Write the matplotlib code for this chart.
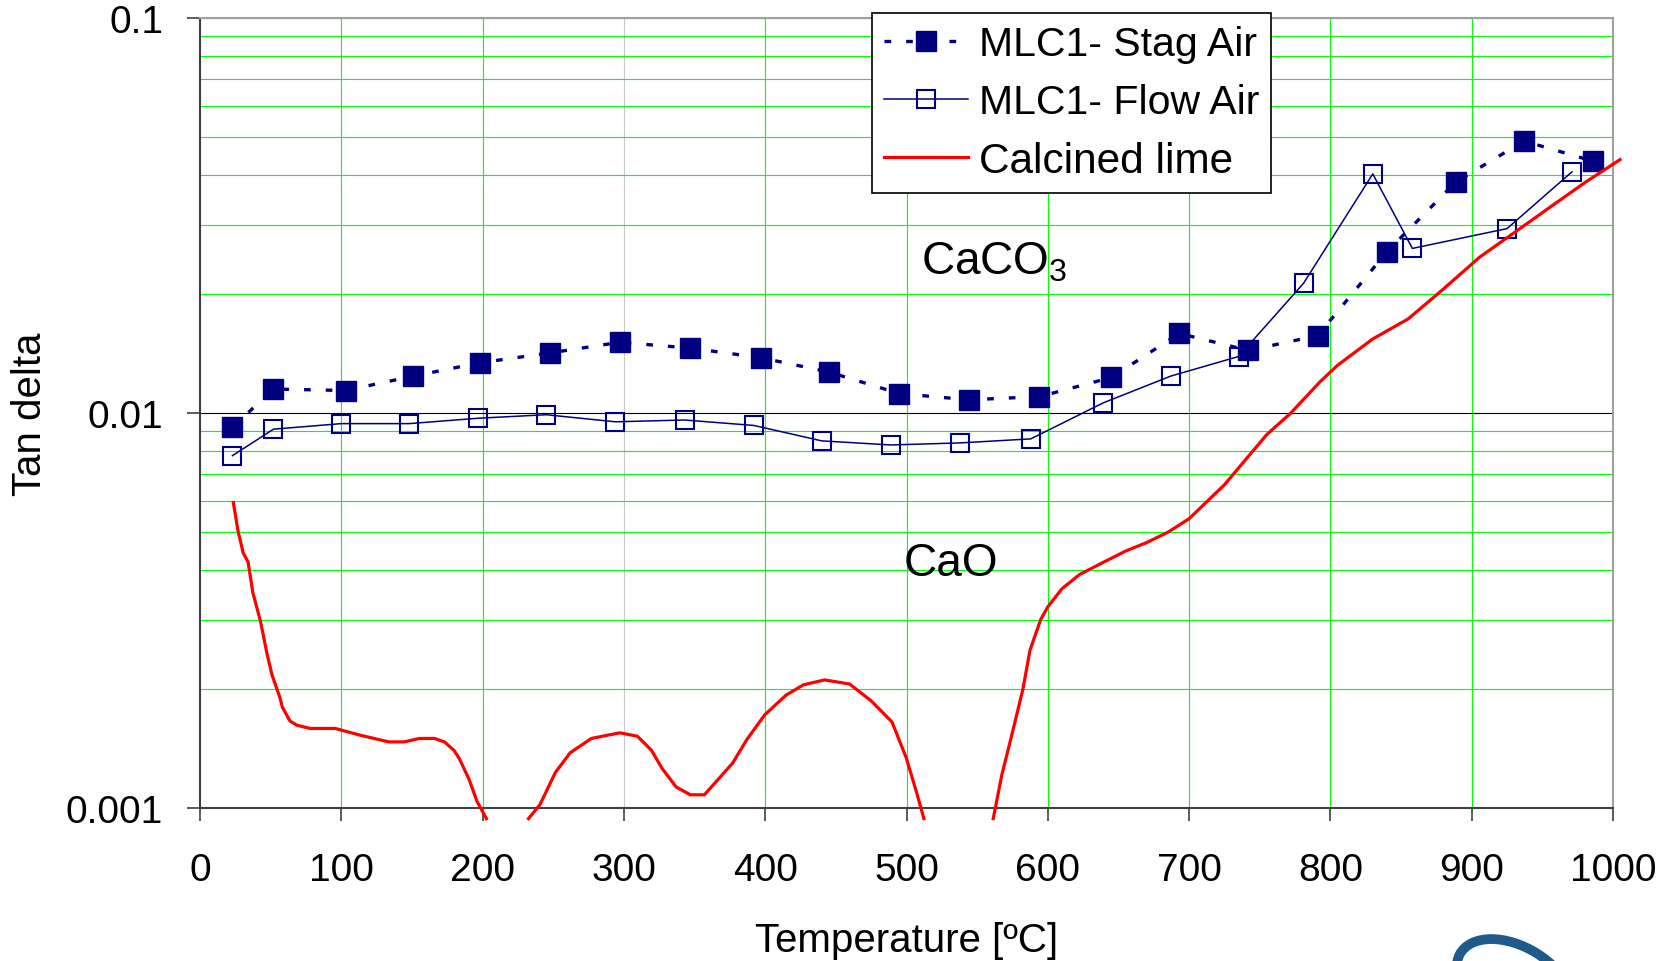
import numpy as np
import matplotlib
matplotlib.use("Agg")
import matplotlib.pyplot as plt
from matplotlib.ticker import LogLocator, NullFormatter
from matplotlib.patches import Arc

plt.rcParams['font.family'] = ['Liberation Sans', 'DejaVu Sans']
plt.rcParams['mathtext.fontset'] = 'custom'
plt.rcParams['mathtext.rm'] = 'Liberation Sans'
plt.rcParams['mathtext.it'] = 'Liberation Sans:italic'

# MLC1 - stagnant air (filled squares, dotted line)
temp_stag = [23, 52, 103, 151, 198, 248, 297, 347, 397, 445, 495, 544, 594,
             645, 693, 742, 791, 840, 889, 937, 986]
tan_stag = [0.0092, 0.0115, 0.0114, 0.0124, 0.0134, 0.0142, 0.0151, 0.0146,
            0.0138, 0.0127, 0.0112, 0.0108, 0.0110, 0.0123, 0.0159, 0.0144,
            0.0157, 0.0256, 0.0385, 0.0488, 0.0434]

# MLC1 - flowing air (open squares, thin line)
temp_flow = [23, 52, 100, 148, 197, 245, 294, 343, 392, 440, 489, 538, 588,
             639, 687, 735, 781, 830, 858, 925, 971]
tan_flow = [0.0078, 0.0091, 0.0094, 0.0094, 0.0097, 0.0099, 0.0095, 0.0096,
            0.0093, 0.0085, 0.0083, 0.0084, 0.0086, 0.0106, 0.0124, 0.0139,
            0.0213, 0.0403, 0.0261, 0.0293, 0.0408]

# Calcined lime (red curve, three visible pieces above 0.001)
temp_lime_1 = [23.6, 27, 30.6, 34, 37.4, 42.8, 47.4, 51, 56.4, 58.3, 63.7, 68.6,
               78, 95.7, 113, 133.6, 144.4, 155.3, 166, 173, 179.7, 183.7,
               190.5, 196, 202.7]
tan_lime_1 = [0.00593, 0.00501, 0.00442, 0.0042, 0.00351, 0.00297, 0.00246,
              0.00217, 0.00191, 0.0018, 0.00166, 0.00162, 0.00159, 0.00159,
              0.00153, 0.00147, 0.00147, 0.0015, 0.0015, 0.00147, 0.0014,
              0.00133, 0.00118, 0.00104, 0.00094]
temp_lime_2 = [232.5, 240.6, 251.5, 262, 277, 297, 309.5, 319.5, 327, 337, 347,
               357, 377, 387, 399.6, 414.7, 427, 442, 459.7, 474.8, 489.8,
               499.8, 507.3, 512.3]
tan_lime_2 = [0.00094, 0.00102, 0.00123, 0.00138, 0.0015, 0.00155, 0.00152,
              0.0014, 0.00126, 0.00113, 0.00108, 0.00108, 0.0013, 0.00149,
              0.00172, 0.00193, 0.00205, 0.00211, 0.00206, 0.00187, 0.00165,
              0.00134, 0.00109, 0.00094]
temp_lime_3 = [561.4, 567.4, 574.9, 582.4, 587.4, 595, 600, 610, 622.5, 640,
               655, 670, 685, 700, 725, 740, 755, 772, 792.7, 805, 830, 855,
               880, 905.6, 930.6, 955.5, 980.5, 1005]
tan_lime_3 = [0.00094, 0.00121, 0.00155, 0.002, 0.00251, 0.003, 0.00323,
              0.00359, 0.0039, 0.0042, 0.00447, 0.0047, 0.00499, 0.0054,
              0.00658, 0.00762, 0.00882, 0.01, 0.012, 0.0132, 0.0154, 0.0173,
              0.0206, 0.0248, 0.0287, 0.0332, 0.0384, 0.0438]

x_ticks = [0, 100, 200, 300, 400, 500, 600, 700, 800, 900, 1000]
y_ticks = [0.001, 0.01, 0.1]
y_tick_labels = ['0.001', '0.01', '0.1']

navy = '#000080'
green = '#00FF00'

fig = plt.figure(figsize=(16.68, 9.62), dpi=100)
ax = fig.add_axes([200 / 1668, 153 / 962, 1413 / 1668, 790 / 962])

ax.set_yscale('log')
ax.set_xlim(0, 1000)
ax.set_ylim(0.001, 0.1)

# grid
ax.yaxis.set_minor_locator(LogLocator(base=10, subs=range(2, 10)))
ax.yaxis.set_minor_formatter(NullFormatter())
ax.grid(which='minor', axis='y', color=green, lw=0.8)
ax.grid(which='major', axis='y', color='black', lw=0.8)
ax.grid(which='major', axis='x', color=green, lw=0.8)
ax.set_axisbelow(True)

ax.plot(temp_stag, tan_stag, color=navy, lw=2.4, linestyle=(0, (2, 4.5)),
        marker='s', markersize=14.5, markerfacecolor=navy, markeredgecolor=navy,
        label='MLC1- Stag Air', zorder=3)
ax.plot(temp_flow, tan_flow, color=navy, lw=1.1, marker='s', markersize=13.5,
        markerfacecolor='none', markeredgecolor=navy, markeredgewidth=1.5,
        label='MLC1- Flow Air', zorder=4)
ax.plot(temp_lime_1, tan_lime_1, color='red', lw=2.3, label='Calcined lime',
        clip_on=False, zorder=5)
ax.plot(temp_lime_2, tan_lime_2, color='red', lw=2.3, clip_on=False, zorder=5)
ax.plot(temp_lime_3, tan_lime_3, color='red', lw=2.3, clip_on=False, zorder=5)

ax.set_xticks(x_ticks)
ax.set_yticks(y_ticks)
ax.set_yticklabels(y_tick_labels)
ax.tick_params(axis='x', which='major', direction='out', length=9.5, width=1.2,
               color='#404040', labelsize=28, pad=22)
ax.tick_params(axis='y', which='major', direction='out', length=9.5, width=1.2,
               color='#404040', labelsize=28, pad=17)
ax.tick_params(axis='y', which='minor', length=0)

# the 300 gridline is grey in the original
ax.get_xgridlines()[3].set_color('#c8c8c8')

for side in ['left', 'bottom']:
    ax.spines[side].set_color('#404040')
    ax.spines[side].set_linewidth(1.5)
for side in ['top', 'right']:
    ax.spines[side].set_color('#a0a0a0')
    ax.spines[side].set_linewidth(1.5)

ax.set_ylabel('Tan delta', fontsize=29, va='center')
ax.yaxis.set_label_coords(-0.1203, 0.5)
ax.set_xlabel('Temperature [ºC]', fontsize=29, va='baseline')
ax.xaxis.set_label_coords(0.5, -0.1810)

ax.text(510, 0.0225, 'CaCO$_3$', fontsize=33, ha='left', va='baseline', zorder=6)
ax.text(498, 0.00389, 'CaO', fontsize=33, ha='left', va='baseline', zorder=6)

leg = ax.legend(loc='upper left', bbox_to_anchor=((872 - 200) / 1413, (809 - 14) / 790),
                borderaxespad=0, fontsize=29.5, frameon=True, fancybox=False,
                edgecolor='black', framealpha=1, borderpad=0.3,
                handlelength=2.05, handletextpad=0.25, labelspacing=0.48)
leg.get_frame().set_linewidth(1.2)
leg.set_zorder(10)
leg.get_texts()[2].set_fontsize(30.5)

# partial logo in the bottom right corner
fig.patches.append(Arc((1515 / 1668, -25 / 962), 100 / 1668, 100 / 962, angle=25,
                       theta1=10, theta2=200, color='#1f5a8c', lw=7,
                       transform=fig.transFigure))

fig.savefig('out.png', dpi=100)
